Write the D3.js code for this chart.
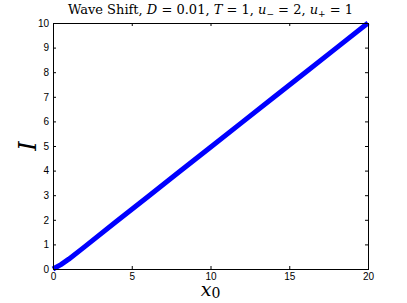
<!DOCTYPE html>
<html>
<head>
<meta charset="utf-8">
<script src="https://cdn.jsdelivr.net/npm/d3@7"></script>
<style>
  body { margin: 0; background: #fff; }
  svg { display: block; }
</style>
</head>
<body>
<div id="chart"></div>
<script>
// data
const x0Values = [0, 0.5, 1, 2, 4, 6, 8, 10, 12, 14, 16, 18, 20];
const iValues = [0, 0.18, 0.4, 0.9, 1.92, 2.93, 3.94, 4.95, 5.96, 6.97, 7.98, 8.99, 10];
const xTicks = [0, 5, 10, 15, 20];
const yTicks = [0, 1, 2, 3, 4, 5, 6, 7, 8, 9, 10];

const width = 407;
const height = 303;
const margin = { top: 23, right: 39, bottom: 34, left: 53 };

const svg = d3.select('#chart')
  .append('svg')
  .attr('width', width)
  .attr('height', height);

const x = d3.scaleLinear()
  .domain([0, 20])
  .range([margin.left, width - margin.right]);
const y = d3.scaleLinear()
  .domain([0, 10])
  .range([height - margin.bottom, margin.top]);

const tickFont = '"Liberation Sans", Arial, sans-serif';
const mathFont = '"DejaVu Serif", "Liberation Serif", serif';

// curve
const data = x0Values.map((d, i) => ({ x0: d, I: iValues[i] }));
const line = d3.line()
  .x(d => x(d.x0))
  .y(d => y(d.I));

svg.append('path')
  .datum(data)
  .attr('d', line)
  .attr('fill', 'none')
  .attr('stroke', '#0000ff')
  .attr('stroke-width', 5)
  .attr('stroke-linejoin', 'round');

// axes (MATLAB style: ticks inside, box)
const tl = 3;
function styleAxis(g) {
  g.select('.domain').remove();
  g.selectAll('.tick line').attr('stroke', '#000');
  g.selectAll('.tick text')
    .style('font-family', tickFont)
    .style('font-size', '10px')
    .attr('fill', '#000');
}

svg.append('g')
  .attr('transform', `translate(0,${y(0)})`)
  .call(d3.axisBottom(x).tickValues(xTicks).tickSize(-tl).tickPadding(4))
  .call(styleAxis);
svg.append('g')
  .attr('transform', `translate(0,${y(10)})`)
  .call(d3.axisTop(x).tickValues(xTicks).tickSize(-tl).tickFormat(''))
  .call(styleAxis);
svg.append('g')
  .attr('transform', `translate(${x(0)},0)`)
  .call(d3.axisLeft(y).tickValues(yTicks).tickSize(-tl).tickPadding(4))
  .call(styleAxis);
svg.append('g')
  .attr('transform', `translate(${x(20)},0)`)
  .call(d3.axisRight(y).tickValues(yTicks).tickSize(-tl).tickFormat(''))
  .call(styleAxis);

svg.append('rect')
  .attr('x', x(0) + 0.5)
  .attr('y', y(10) + 0.5)
  .attr('width', x(20) - x(0))
  .attr('height', y(0) - y(10))
  .attr('fill', 'none')
  .attr('stroke', '#000')
  .attr('stroke-width', 1);

// title
const title = svg.append('text')
  .attr('x', (x(0) + x(20)) / 2)
  .attr('y', 14)
  .attr('text-anchor', 'middle')
  .style('font-family', mathFont)
  .style('font-size', '13px');
title.append('tspan').text('Wave Shift, ');
title.append('tspan').style('font-style', 'italic').text('D');
title.append('tspan').text(' = 0.01, ');
title.append('tspan').style('font-style', 'italic').text('T');
title.append('tspan').text(' = 1, ');
title.append('tspan').style('font-style', 'italic').text('u');
title.append('tspan').attr('dy', 3).style('font-size', '9px').text('\u2212');
title.append('tspan').attr('dy', -3).text(' = 2, ');
title.append('tspan').style('font-style', 'italic').text('u');
title.append('tspan').attr('dy', 3).style('font-size', '9px').text('+');
title.append('tspan').attr('dy', -3).text(' = 1');

// axis labels
const xl = svg.append('text')
  .attr('x', (x(0) + x(20)) / 2)
  .attr('y', 296)
  .attr('text-anchor', 'middle')
  .style('font-family', mathFont)
  .style('font-size', '19px');
xl.append('tspan').style('font-style', 'italic').text('x');
xl.append('tspan').attr('dy', 2).style('font-size', '14px').text('0');

svg.append('text')
  .attr('transform', `translate(36,${(y(0) + y(10)) / 2}) rotate(-90)`)
  .attr('text-anchor', 'middle')
  .style('font-family', mathFont)
  .style('font-size', '24px')
  .style('font-style', 'italic')
  .text('I');
</script>
</body>
</html>
